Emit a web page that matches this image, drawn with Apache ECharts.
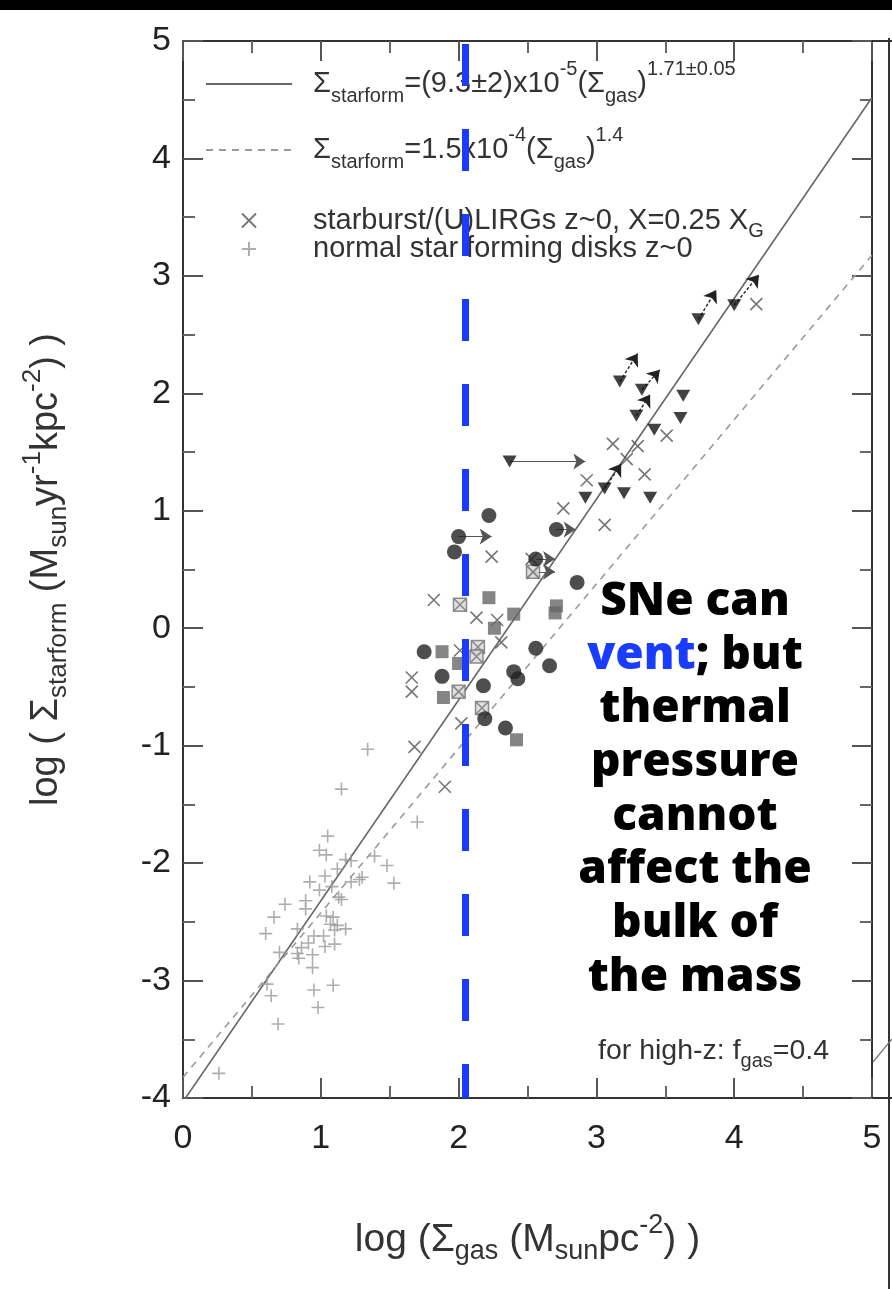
<!DOCTYPE html>
<html>
<head>
<meta charset="utf-8">
<script src="https://cdn.jsdelivr.net/npm/echarts/dist/echarts.min.js"></script>
<style>
  html, body { margin: 0; padding: 0; background: #fff; }
  #chart { width: 892px; height: 1289px; }
</style>
</head>
<body>
<div id="chart"></div>
<script>
// Kennicutt-Schmidt relation: log star-formation surface density vs log gas surface density

// normal star-forming disks z~0 (+)
const diskPoints = [[1.15,-1.37],[1.05,-1.77],[0.99,-1.89],[1.04,-1.93],[1.18,-1.97],[1.22,-1.98],[1.39,-1.94],[1.48,-2.02],[1.53,-2.17],[1.70,-1.65],[1.12,-2.05],[1.03,-2.11],[0.92,-2.16],[1.08,-2.20],[0.99,-2.23],[1.30,-2.12],[1.22,-2.16],[1.28,-2.14],[1.13,-2.29],[1.15,-2.31],[0.89,-2.32],[0.74,-2.35],[0.89,-2.39],[0.66,-2.46],[1.04,-2.45],[1.09,-2.46],[1.07,-2.52],[1.12,-2.53],[1.18,-2.56],[1.10,-2.57],[0.83,-2.56],[0.60,-2.60],[0.95,-2.62],[1.02,-2.62],[0.91,-2.68],[0.86,-2.72],[1.03,-2.71],[1.10,-2.69],[0.70,-2.76],[0.83,-2.77],[0.84,-2.81],[0.94,-2.78],[0.94,-2.89],[0.61,-3.03],[0.64,-3.13],[0.95,-3.08],[1.09,-3.04],[0.98,-3.23],[0.69,-3.37],[0.26,-3.79],[1.34,-1.03]];

// starburst / (U)LIRGs z~0 (x)
const starburstPoints = [[1.90,-1.35],[1.82,0.24],[1.66,-0.42],[1.66,-0.54],[2.02,-0.81],[1.68,-1.01],[2.13,0.09],[2.28,0.07],[2.31,-0.12],[2.01,-0.19],[2.76,1.02],[3.06,0.88],[2.24,0.61],[2.53,0.59],[3.12,1.57],[2.93,1.26],[3.30,1.55],[3.22,1.44],[3.35,1.31],[3.51,1.64],[4.16,2.76],[2.54,0.47]];

// high-z samples
const circlePoints = [[2.22,0.96],[2.00,0.78],[1.97,0.65],[2.71,0.84],[2.56,0.59],[2.86,0.39],[1.75,-0.20],[1.88,-0.41],[2.56,-0.17],[2.66,-0.32],[2.40,-0.37],[2.43,-0.43],[2.18,-0.49],[2.19,-0.77],[2.34,-0.85]];
const trianglePoints = [[2.37,1.42],[2.92,1.11],[3.06,1.19],[3.20,1.15],[3.39,1.11],[3.42,1.69],[3.29,1.81],[3.33,2.03],[3.17,2.10],[3.63,1.98],[3.61,1.79],[3.74,2.63],[4.00,2.75]];
const squarePoints = [[2.22,0.26],[2.40,0.12],[2.71,0.19],[2.70,0.13],[2.26,0.00],[1.88,-0.20],[2.00,-0.30],[1.89,-0.59],[2.42,-0.95]];
const hatchedPoints = [[2.01,0.20],[2.14,-0.16],[2.13,-0.24],[2.00,-0.54],[2.17,-0.68],[2.54,0.48]];

// limit arrows (from point to arrow tip)
const flatArrows = [
  [[2.37,1.42],[2.92,1.42]],
  [[2.00,0.78],[2.24,0.78]],
  [[2.71,0.84],[2.85,0.84]],
  [[2.56,0.59],[2.70,0.59]],
  [[2.54,0.48],[2.70,0.48]]
];
const slantArrows = [
  [[3.06,1.19],[3.18,1.40]],
  [[3.29,1.81],[3.39,1.99]],
  [[3.33,2.03],[3.46,2.20]],
  [[3.17,2.10],[3.30,2.34]],
  [[3.74,2.63],[3.87,2.88]],
  [[4.00,2.75],[4.18,3.01]]
];

// power-law fits: Sigma_SFR = A * Sigma_gas^N
const fitSolid = { A: 9.3e-5, N: 1.71 };
const fitDash = { A: 1.5e-4, N: 1.4 };
const fitRange = [0, 5];

const xTicks = [0, 1, 2, 3, 4, 5];
const yTicks = [-4, -3, -2, -1, 0, 1, 2, 3, 4, 5];
const ventX = 2.05;

function fitLine(f) {
  return fitRange.map(x => [x, Math.log10(f.A) + f.N * x]);
}

const FONT = "'Liberation Sans', Arial, Helvetica, sans-serif";

function richSet(base, small, lh, drop, rise, lead, color) {
  const mk = (o) => Object.assign({ fontFamily: FONT, color: color, lineHeight: lh }, o);
  return {
    n: mk({ fontSize: base }),
    lead: mk({ fontSize: base, padding: [0, 0, 0, lead] }),
    s: mk({ fontSize: small, padding: [drop, 0, 0, 0] }),
    p: mk({ fontSize: small, padding: [0, 0, rise, 0] })
  };
}

const legendText = {
  fitSolid: '{lead|Σ}{s|starform}{n|=(9.3±2)x10}{p|-5}{n|(Σ}{s|gas}{n|)}{p|1.71±0.05}',
  fitDash: '{lead|Σ}{s|starform}{n|=1.5x10}{p|-4}{n|(Σ}{s|gas}{n|)}{p|1.4}',
  starburst: '{lead|starburst/(U)LIRGs z~0, X=0.25 X}{s|G}',
  disks: '{lead|normal star forming disks z~0}'
};

const chart = echarts.init(document.getElementById('chart'), null, { renderer: 'canvas' });

const axisCommon = {
  type: 'value',
  splitLine: { show: false },
  minorSplitLine: { show: false },
  axisLine: { show: true, onZero: false, lineStyle: { color: '#333', width: 2 } },
  axisTick: { show: true, inside: true, length: 20, lineStyle: { color: '#555', width: 2 } },
  minorTick: { show: true, splitNumber: 2, length: 12, lineStyle: { color: '#666', width: 2 } }
};

const option = {
  animation: false,
  backgroundColor: '#fff',
  grid: { left: 183, right: 20, top: 41, bottom: 191, containLabel: false },
  xAxis: [
    Object.assign({}, axisCommon, {
      position: 'bottom', min: xTicks[0], max: xTicks[xTicks.length - 1], interval: 1,
      axisLabel: { show: true, fontSize: 34, fontFamily: FONT, color: '#222', margin: 24 },
      name: '{n|log (Σ}{s|gas}{n| (M}{s|sun}{n|pc}{p|-2}{n|) )}',
      nameLocation: 'middle', nameGap: 120,
      nameTextStyle: { fontSize: 39, fontFamily: FONT, color: '#333', rich: richSet(39, 27, 44, 24, 28, 0, '#333') }
    }),
    Object.assign({}, axisCommon, {
      position: 'top', min: xTicks[0], max: xTicks[xTicks.length - 1], interval: 1,
      axisLabel: { show: false }
    })
  ],
  yAxis: [
    Object.assign({}, axisCommon, {
      position: 'left', min: yTicks[0], max: yTicks[yTicks.length - 1], interval: 1,
      axisLabel: { show: true, fontSize: 34, fontFamily: FONT, color: '#222', margin: 12 },
      name: '{n|log ( Σ}{s|starform}{n| (M}{s|sun}{n|yr}{p|-1}{n|kpc}{p|-2}{n|) )}',
      nameLocation: 'middle', nameGap: 114, nameRotate: 90,
      nameTextStyle: { fontSize: 38, fontFamily: FONT, color: '#333', rich: richSet(38, 26, 44, 24, 28, 0, '#333') }
    }),
    Object.assign({}, axisCommon, {
      position: 'right', min: yTicks[0], max: yTicks[yTicks.length - 1], interval: 1,
      axisLabel: { show: false }
    })
  ],
  legend: [
    {
      data: ['fitSolid', 'fitDash'],
      orient: 'vertical', left: 205, top: 59, padding: 0,
      itemWidth: 86, itemHeight: 14, itemGap: 16,
      itemStyle: { opacity: 0 },
      selectedMode: false,
      formatter: name => legendText[name],
      textStyle: { fontSize: 29, fontFamily: FONT, color: '#333', rich: richSet(29, 20, 34, 24, 30, 16, '#333') }
    },
    {
      data: ['starburst', 'disks'],
      orient: 'vertical', left: 241, top: 199.5, padding: 0,
      itemWidth: 14, itemHeight: 14, itemGap: -7,
      selectedMode: false,
      formatter: name => legendText[name],
      textStyle: { fontSize: 29, fontFamily: FONT, color: '#333', rich: richSet(29, 20, 29, 22, 26, 52, '#333') }
    }
  ],
  series: [
    {
      name: 'fitSolid', type: 'line', data: fitLine(fitSolid), symbol: 'none', z: 1,
      lineStyle: { color: '#666', width: 1.6, type: 'solid' }, itemStyle: { color: '#666' }
    },
    {
      name: 'fitDash', type: 'line', data: fitLine(fitDash), symbol: 'none', z: 1,
      lineStyle: { color: '#9a9a9a', width: 1.6, type: [7, 6] }, itemStyle: { color: '#9a9a9a' }
    },
    {
      name: 'disks', type: 'scatter', data: diskPoints,
      symbol: 'path://M5,0L5,10M0,5L10,5', symbolSize: 13, symbolKeepAspect: true,
      itemStyle: { color: 'rgba(0,0,0,0)', borderColor: '#9a9a9a', borderWidth: 1.6 }
    },
    {
      name: 'starburst', type: 'scatter', data: starburstPoints,
      symbol: 'path://M0,0L10,10M10,0L0,10', symbolSize: 12, symbolKeepAspect: true,
      itemStyle: { color: 'rgba(0,0,0,0)', borderColor: '#555', borderWidth: 1.6 }
    },
    {
      name: 'flatArrows', type: 'lines', coordinateSystem: 'cartesian2d', z: 3,
      data: flatArrows.map(c => ({ coords: c })),
      symbol: ['none', 'arrow'], symbolSize: 12,
      lineStyle: { color: '#555', width: 1.2, type: 'solid', opacity: 1 }
    },
    {
      name: 'slantArrows', type: 'lines', coordinateSystem: 'cartesian2d', z: 3,
      data: slantArrows.map(c => ({ coords: c })),
      symbol: ['none', 'arrow'], symbolSize: 12,
      lineStyle: { color: '#222', width: 1.4, type: [3, 2], opacity: 1 }
    },
    {
      name: 'squares', type: 'scatter', data: squarePoints, symbol: 'rect', symbolSize: 13, z: 3,
      itemStyle: { color: '#666' }
    },
    {
      name: 'hatched', type: 'scatter', data: hatchedPoints, z: 3,
      symbol: 'path://M0,0L10,0L10,10L0,10ZM0,0L10,10M10,0L0,10', symbolSize: 13, symbolKeepAspect: true,
      itemStyle: { color: '#d8d8d8', borderColor: '#707070', borderWidth: 1.5 }
    },
    {
      name: 'circles', type: 'scatter', data: circlePoints, symbol: 'circle', symbolSize: 15, z: 4,
      itemStyle: { color: '#222' }
    },
    {
      name: 'triangles', type: 'scatter', data: trianglePoints, symbol: 'triangle', symbolRotate: 180,
      symbolSize: [14, 12], z: 4,
      itemStyle: { color: '#111' }
    },
    {
      name: 'vent', type: 'line', data: [[ventX, yTicks[yTicks.length - 1]], [ventX, yTicks[0]]],
      symbol: 'none', z: 6,
      lineStyle: { color: '#1a3cff', width: 7, type: [42, 43], dashOffset: -3, cap: 'butt' }
    }
  ],
  graphic: [
    { type: 'rect', shape: { x: 0, y: 0, width: 892, height: 10 }, style: { fill: '#000' }, z: 20 },
    { type: 'line', shape: { x1: 889, y1: 38, x2: 889, y2: 1289 }, style: { stroke: '#333', lineWidth: 2 }, z: 20 },
    { type: 'line', shape: { x1: 872, y1: 1098, x2: 892, y2: 1098 }, style: { stroke: '#333', lineWidth: 2 }, z: 20 },
    { type: 'line', shape: { x1: 872, y1: 41, x2: 892, y2: 41 }, style: { stroke: '#333', lineWidth: 2 }, z: 20 },
    { type: 'line', shape: { x1: 873, y1: 1062, x2: 892, y2: 1039 }, style: { stroke: '#777', lineWidth: 1.2 }, z: 20 },
    {
      type: 'text', left: 598, top: 1031, z: 20,
      style: {
        text: '{n|for high-z: f}{s|gas}{n|=0.4}',
        rich: {
          n: { fontSize: 28.5, fontFamily: FONT, fill: '#333', lineHeight: 40 },
          s: { fontSize: 20, fontFamily: FONT, fill: '#333', lineHeight: 40, padding: [20, 0, 0, 0] }
        }
      }
    },
    {
      type: 'text', z: 30,
      style: {
        x: 695, y: 575, align: 'center', verticalAlign: 'top',
        text: '{b|SNe can}\n{v|vent}{b|; but}\n{b|thermal}\n{b|pressure}\n{b|cannot}\n{b|affect the}\n{b|bulk of}\n{b|the mass}',
        rich: {
          b: { fontSize: 46, fontWeight: 800, fontFamily: "'Open Sans', 'DejaVu Sans', sans-serif", fill: '#000', lineHeight: 53.7 },
          v: { fontSize: 46, fontWeight: 800, fontFamily: "'Open Sans', 'DejaVu Sans', sans-serif", fill: '#1a3cff', lineHeight: 53.7 }
        }
      }
    }
  ]
};

chart.setOption(option);
</script>
</body>
</html>
